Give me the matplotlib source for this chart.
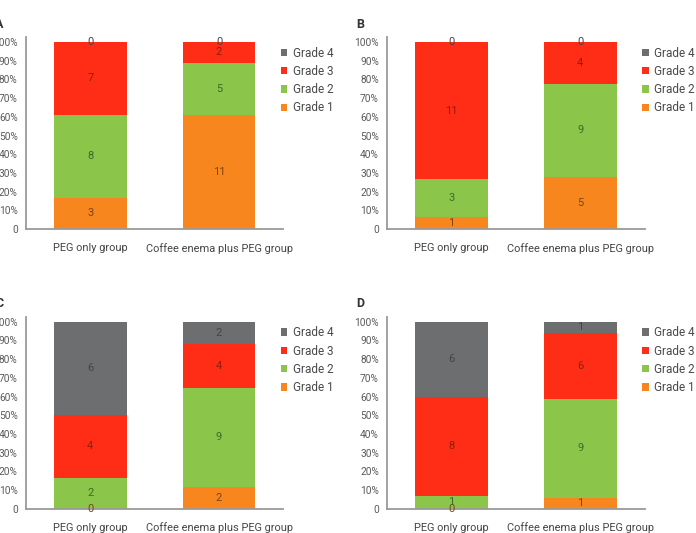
import matplotlib
matplotlib.use("Agg")
import matplotlib.pyplot as plt
import numpy as np

plt.rcParams['font.family'] = ['Roboto', 'DejaVu Sans']

groups = ["PEG only group", "Coffee enema plus PEG group"]
grades = ["Grade 1", "Grade 2", "Grade 3", "Grade 4"]
colors = ["#f7861f", "#8bc64a", "#ff2d16", "#6d6e70"]
text_colors = ["#7a4516", "#3d6a2a", "#8f1e0e", "#444444"]
yticklabels = ["0", "10%", "20%", "30%", "40%", "50%", "60%", "70%", "80%", "90%", "100%"]

# counts per group: [Grade1, Grade2, Grade3, Grade4]
panel_A_peg = [3, 8, 7, 0]
panel_A_coffee = [11, 5, 2, 0]
panel_B_peg = [1, 3, 11, 0]
panel_B_coffee = [5, 9, 4, 0]
panel_C_peg = [0, 2, 4, 6]
panel_C_coffee = [2, 9, 4, 2]
panel_D_peg = [0, 1, 8, 6]
panel_D_coffee = [1, 9, 6, 1]

panels = [
    ("A", panel_A_peg, panel_A_coffee),
    ("B", panel_B_peg, panel_B_coffee),
    ("C", panel_C_peg, panel_C_coffee),
    ("D", panel_D_peg, panel_D_coffee),
]

W, H = 696, 533
fig = plt.figure(figsize=(W / 100, H / 100), dpi=100)

ax_px = {  # left, top(spine), bottom
    "A": (26, 37, 229),
    "B": (387.3, 37, 229),
    "C": (26, 316.7, 508.7),
    "D": (387.3, 316.7, 508.7),
}
ax_w = 257.4

for letter, peg, cof in panels:
    l, t, b = ax_px[letter]
    ax = fig.add_axes([l / W, 1 - b / H, ax_w / W, (b - t) / H])
    data = np.array([peg, cof], dtype=float)
    totals = data.sum(axis=1)
    frac = data / totals[:, None]
    x = np.arange(len(groups))
    bottom = np.zeros(len(groups))
    for gi in range(len(grades)):
        ax.bar(x, frac[:, gi], bottom=bottom, width=0.565, color=colors[gi],
               label=grades[gi], edgecolor='none', zorder=2)
        for xi in range(len(groups)):
            yc = bottom[xi] + frac[xi, gi] / 2
            ax.text(x[xi], yc, f"{int(data[xi, gi])}", ha='center', va='center',
                    fontsize=8, color=text_colors[gi], zorder=3)
        bottom += frac[:, gi]
    ax.set_xlim(-0.5, 1.5)
    ax.set_ylim(0, 1.027)
    ax.set_yticks(np.linspace(0, 1, 11))
    ax.set_yticklabels(yticklabels)
    ax.set_xticks(x)
    ax.set_xticklabels(groups)
    ax.tick_params(axis='y', length=0, pad=6, labelsize=7.3, labelcolor='#5a5a5a')
    ax.tick_params(axis='x', length=0, pad=10, labelsize=7.9, labelcolor='#444444')
    for s in ['top', 'right']:
        ax.spines[s].set_visible(False)
    for s in ['left', 'bottom']:
        ax.spines[s].set_color('#9a9a9a')
        ax.spines[s].set_linewidth(1.3)
    handles, labels = ax.get_legend_handles_labels()
    ax.legend(handles[::-1], labels[::-1], loc='upper left', bbox_to_anchor=(0.972, 0.975),
              frameon=False, fontsize=8.5, handlelength=0.55, handleheight=0.55,
              handletextpad=0.45, labelspacing=0.45, borderaxespad=0, labelcolor='#4a4a4a')
    fig.text((l - 31) / W, 1 - (t - 13) / H, letter, fontsize=9, fontweight='bold',
             ha='left', va='center', color='#333333')

fig.savefig("out.png", dpi=100)
